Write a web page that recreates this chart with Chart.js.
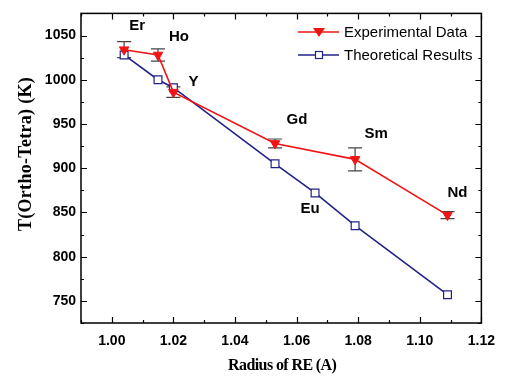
<!DOCTYPE html>
<html>
<head>
<meta charset="utf-8">
<script src="https://cdn.jsdelivr.net/npm/chart.js@4.4.1/dist/chart.umd.min.js"></script>
<style>
  html, body { margin: 0; padding: 0; background: #fff; }
  #wrap { width: 505px; height: 378px; }
</style>
</head>
<body>
<div id="wrap"><canvas id="chart" width="505" height="378"></canvas></div>
<script>
// ions and their radius (A)
const ions = ['Er', 'Ho', 'Y', 'Gd', 'Eu', 'Sm', 'Nd'];
const radius = [1.004, 1.015, 1.020, 1.053, 1.066, 1.079, 1.109];

// experimental: no value for Eu
const expIons = ['Er', 'Ho', 'Y', 'Gd', 'Sm', 'Nd'];
const expRadius = [1.004, 1.015, 1.020, 1.053, 1.079, 1.109];
const expT = [1034, 1028, 986, 928, 910, 847];
const expErr = [9, 7, 6, 5, 13, 4];

const theoT = [1028, 1000, 991, 905, 872, 835, 757];

const xTicks = [1.00, 1.02, 1.04, 1.06, 1.08, 1.10, 1.12];
const xMinor = [0.99, 1.01, 1.03, 1.05, 1.07, 1.09, 1.11];
const yTicks = [750, 800, 850, 900, 950, 1000, 1050];
const yMinor = [725, 775, 825, 875, 925, 975, 1025, 1075];

const RED = '#f01515';
const BLUE = '#22228a';

// frame, inward ticks, error bars, ion labels, legend
const decor = {
  id: 'decor',
  beforeDatasetsDraw(chart) {
    const ctx = chart.ctx;
    const x = chart.scales.x, y = chart.scales.y;
    ctx.save();
    ctx.strokeStyle = '#444';
    ctx.lineWidth = 1.2;
    expRadius.forEach((r, i) => {
      const px = x.getPixelForValue(r);
      const top = y.getPixelForValue(expT[i] + expErr[i]);
      const bot = y.getPixelForValue(expT[i] - expErr[i]);
      ctx.beginPath();
      ctx.moveTo(px, top); ctx.lineTo(px, bot);
      ctx.moveTo(px - 7, top); ctx.lineTo(px + 7, top);
      ctx.moveTo(px - 7, bot); ctx.lineTo(px + 7, bot);
      ctx.stroke();
    });
    ctx.restore();
  },
  afterDraw(chart) {
    const ctx = chart.ctx;
    const a = chart.chartArea;
    const x = chart.scales.x, y = chart.scales.y;
    ctx.save();
    ctx.strokeStyle = '#000';
    ctx.lineWidth = 1.5;
    ctx.strokeRect(a.left, a.top, a.right - a.left, a.bottom - a.top);
    ctx.lineWidth = 1.2;
    ctx.beginPath();
    const tx = (vals, len) => vals.forEach(v => {
      const px = Math.round(x.getPixelForValue(v)) + 0.5;
      ctx.moveTo(px, a.bottom); ctx.lineTo(px, a.bottom - len);
      ctx.moveTo(px, a.top); ctx.lineTo(px, a.top + len);
    });
    const ty = (vals, len) => vals.forEach(v => {
      const py = Math.round(y.getPixelForValue(v)) + 0.5;
      ctx.moveTo(a.left, py); ctx.lineTo(a.left + len, py);
      ctx.moveTo(a.right, py); ctx.lineTo(a.right - len, py);
    });
    tx(xTicks, 6); tx(xMinor, 3);
    ty(yTicks, 6); ty(yMinor, 3);
    ctx.stroke();

    // ion labels
    ctx.fillStyle = '#000';
    ctx.font = 'bold 15px "Liberation Sans", Arial, sans-serif';
    ctx.textAlign = 'center';
    ctx.textBaseline = 'middle';
    const off = { Er: [13, -24], Ho: [21, -18], Y: [20, -10], Gd: [22, -24], Sm: [21, -25], Nd: [10, -22] };
    expIons.forEach((n, i) => {
      const px = x.getPixelForValue(expRadius[i]);
      const py = y.getPixelForValue(expT[i]);
      ctx.fillText(n, px + off[n][0], py + off[n][1]);
    });
    const ei = ions.indexOf('Eu');
    ctx.fillText('Eu', x.getPixelForValue(radius[ei]) - 5, y.getPixelForValue(theoT[ei]) + 16);

    // axis titles
    ctx.font = 'bold 16px "Liberation Serif", "Times New Roman", serif';
    ctx.letterSpacing = '-0.6px';
    ctx.fillText('Radius of RE (A)', (a.left + a.right) / 2 + 1, 366);
    ctx.save();
    ctx.font = 'bold 18px "Liberation Serif", "Times New Roman", serif';
    ctx.letterSpacing = '0.3px';
    ctx.translate(26, 154);
    ctx.rotate(-Math.PI / 2);
    ctx.fillText('T(Ortho-Tetra) (K)', 0, 0);
    ctx.restore();
    ctx.letterSpacing = '0px';

    // legend
    const items = [
      { text: 'Experimental Data', color: RED, ly: 32 },
      { text: 'Theoretical Results', color: BLUE, ly: 55 }
    ];
    ctx.font = '15px "Liberation Sans", Arial, sans-serif';
    ctx.textAlign = 'left';
    items.forEach((it, k) => {
      ctx.strokeStyle = it.color;
      ctx.lineWidth = 1.6;
      ctx.beginPath();
      ctx.moveTo(298, it.ly); ctx.lineTo(339, it.ly);
      ctx.stroke();
      if (k === 0) {
        ctx.fillStyle = RED;
        ctx.beginPath();
        ctx.moveTo(313, it.ly - 4); ctx.lineTo(325, it.ly - 4); ctx.lineTo(319, it.ly + 5);
        ctx.closePath(); ctx.fill();
      } else {
        ctx.fillStyle = '#fff';
        ctx.fillRect(315, it.ly - 4, 8, 8);
        ctx.lineWidth = 1.2;
        ctx.strokeRect(315.5, it.ly - 3.5, 7, 7);
      }
      ctx.fillStyle = '#000';
      ctx.fillText(it.text, 344, it.ly + 1);
    });
    ctx.restore();
  }
};

new Chart(document.getElementById('chart'), {
  type: 'line',
  data: {
    datasets: [
      {
        label: 'Experimental Data',
        data: expRadius.map((r, i) => ({ x: r, y: expT[i] })),
        borderColor: RED,
        backgroundColor: RED,
        borderWidth: 1.6,
        pointStyle: 'triangle',
        pointRotation: 180,
        pointRadius: 5.5,
        pointBorderWidth: 1,
        order: 1
      },
      {
        label: 'Theoretical Results',
        data: radius.map((r, i) => ({ x: r, y: theoT[i] })),
        borderColor: BLUE,
        backgroundColor: '#fff',
        borderWidth: 1.6,
        pointStyle: 'rect',
        pointRadius: 5.5,
        pointBorderWidth: 1.2,
        order: 2
      }
    ]
  },
  options: {
    responsive: false,
    animation: false,
    layout: { padding: { top: 7, right: 21, left: 0, bottom: 0 } },
    plugins: { legend: { display: false }, tooltip: { enabled: false } },
    scales: {
      x: {
        type: 'linear',
        min: 0.99,
        max: 1.12,
        afterFit: s => { s.height = 55; },
        afterBuildTicks: s => { s.ticks = xTicks.map(v => ({ value: v })); },
        grid: { display: false, drawTicks: false },
        border: { display: false },
        ticks: {
          padding: 10,
          color: '#000',
          font: { family: '"Liberation Sans", Arial, sans-serif', size: 14, weight: 'bold' },
          callback: v => v.toFixed(2)
        }
      },
      y: {
        type: 'linear',
        min: 725,
        max: 1075,
        afterFit: s => { s.width = 81; },
        afterBuildTicks: s => { s.ticks = yTicks.map(v => ({ value: v })); },
        grid: { display: false, drawTicks: false },
        border: { display: false },
        ticks: {
          padding: 5,
          color: '#000',
          font: { family: '"Liberation Sans", Arial, sans-serif', size: 14, weight: 'bold' },
          callback: v => String(v)
        }
      }
    }
  },
  plugins: [decor]
});
</script>
</body>
</html>
